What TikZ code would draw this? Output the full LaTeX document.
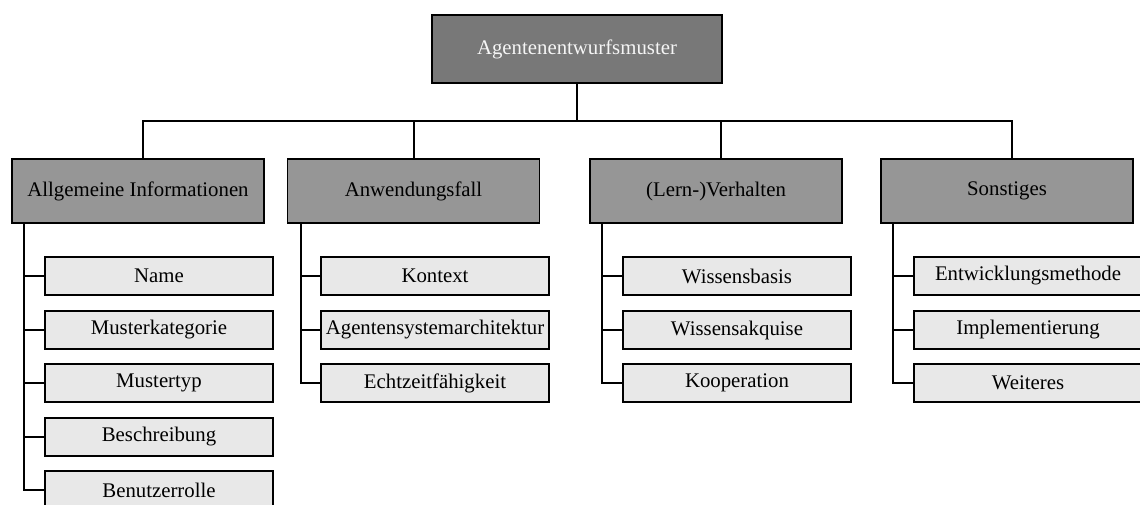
\documentclass[tikz,border=0pt]{standalone}
\usepackage{fontspec}
\setmainfont{Liberation Serif}
\definecolor{rootfill}{gray}{0.47}
\definecolor{catfill}{gray}{0.59}
\definecolor{itemfill}{gray}{0.91}
\definecolor{roottext}{gray}{0.96}
\tikzset{
  box/.style={draw=black, line width=1.8pt, rectangle, inner sep=1pt, align=center,
    font=\fontsize{20.8}{25}\selectfont},
  rootbox/.style={box, fill=rootfill, text=roottext, minimum width=290pt, minimum height=68pt},
  catbox/.style={box, fill=catfill, minimum width=252pt, minimum height=64pt},
  itembox/.style={box, fill=itemfill, minimum width=228pt, minimum height=38pt},
  link/.style={draw=black, line width=1.8pt},
}
\begin{document}
\begin{tikzpicture}[x=1pt, y=-1pt]
  \useasboundingbox (0,0) rectangle (1140,504);
  \clip (0,0) rectangle (1140,504);

  % root
  \node[rootbox] (root) at (577,49) {Agentenentwurfsmuster};

  % categories
  \node[catbox] (c1) at (138,191)   {Allgemeine Informationen};
  \node[catbox] (c2) at (413.5,191) {Anwendungsfall};
  \node[catbox] (c3) at (716,191)   {(Lern-)Verhalten};
  \node[catbox] (c4) at (1007,191)  {Sonstiges};

  % items of category 1
  \node[itembox] (a1) at (159,276) {Name};
  \node[itembox] (a2) at (159,330) {Musterkategorie};
  \node[itembox] (a3) at (159,383) {Mustertyp};
  \node[itembox] (a4) at (159,437) {Beschreibung};
  \node[itembox] (a5) at (159,490) {Benutzerrolle};

  % items of category 2
  \node[itembox] (b1) at (435,276) {Kontext};
  \node[itembox] (b2) at (435,330) {Agentensystemarchitektur};
  \node[itembox] (b3) at (435,383) {Echtzeitfähigkeit};

  % items of category 3
  \node[itembox] (d1) at (737,276) {Wissensbasis};
  \node[itembox] (d2) at (737,330) {Wissensakquise};
  \node[itembox] (d3) at (737,383) {Kooperation};

  % items of category 4
  \node[itembox] (e1) at (1028,276) {Entwicklungsmethode};
  \node[itembox] (e2) at (1028,330) {Implementierung};
  \node[itembox] (e3) at (1028,383) {Weiteres};

  % bus from root to categories
  \coordinate (bus) at (0,121);
  \draw[link] (root.south) -- (root.south |- bus);
  \draw[link] (root.south |- bus) -| ([xshift=5pt]c1.north);
  \draw[link] (root.south |- bus) -| ([xshift=0.5pt]c2.north);
  \draw[link] (root.south |- bus) -| ([xshift=5pt]c3.north);
  \draw[link] (root.south |- bus) -| ([xshift=5pt]c4.north);

  % trees from categories to items
  \foreach \k in {a1,a2,a3,a4,a5}
    \draw[link] ([xshift=13pt]c1.south west) |- (\k.west);
  \foreach \k in {b1,b2,b3}
    \draw[link] ([xshift=14pt]c2.south west) |- (\k.west);
  \foreach \k in {d1,d2,d3}
    \draw[link] ([xshift=13pt]c3.south west) |- (\k.west);
  \foreach \k in {e1,e2,e3}
    \draw[link] ([xshift=13pt]c4.south west) |- (\k.west);
\end{tikzpicture}
\end{document}
